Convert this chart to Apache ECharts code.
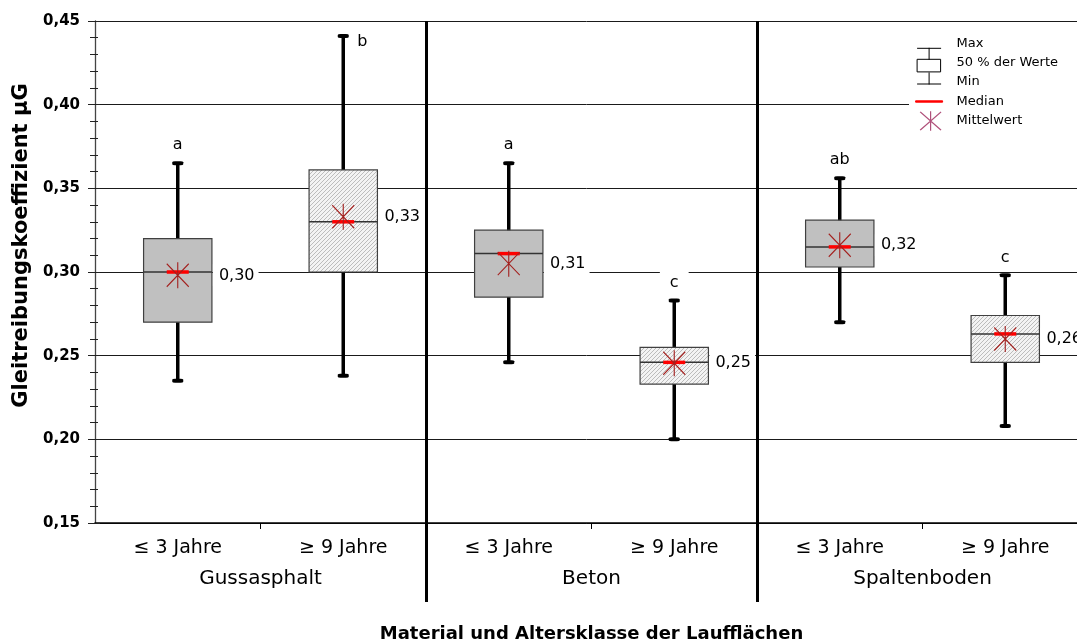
<!DOCTYPE html>
<html><head><meta charset="utf-8">
<script src="https://cdn.jsdelivr.net/npm/echarts@6/dist/echarts.min.js"></script>
<style>html,body{margin:0;padding:0;background:#fff}#c{width:1077px;height:644px}</style>
</head><body><div id="c"></div>
<script>
// ---------- data ----------
const categories = ['≤ 3 Jahre', '≥ 9 Jahre', '≤ 3 Jahre', '≥ 9 Jahre', '≤ 3 Jahre', '≥ 9 Jahre'];
const groups = ['Gussasphalt', 'Beton', 'Spaltenboden'];
const minVals    = [0.235, 0.238, 0.246, 0.200, 0.270, 0.208];
const q1Vals     = [0.270, 0.300, 0.285, 0.233, 0.303, 0.246];
const medianVals = [0.300, 0.330, 0.311, 0.246, 0.315, 0.263];
const q3Vals     = [0.320, 0.361, 0.325, 0.255, 0.331, 0.274];
const maxVals    = [0.365, 0.441, 0.365, 0.283, 0.356, 0.298];
const meanVals   = [0.298, 0.333, 0.305, 0.2455, 0.316, 0.260];
const letters    = ['a', 'b', 'a', 'c', 'ab', 'c'];
const yMin = 0.15, yMax = 0.45, yStep = 0.05;

const FONT = 'DejaVu Sans';
const fmt = v => (Math.round(v * 100 + 1e-6) / 100).toFixed(2).replace('.', ',');

// hatch pattern for the older class
const hc = document.createElement('canvas');
hc.width = 4; hc.height = 4;
const g = hc.getContext('2d');
g.fillStyle = '#f3f3f3'; g.fillRect(0, 0, 4, 4);
g.strokeStyle = '#bcbcbc'; g.lineWidth = 1;
g.beginPath();
g.moveTo(0, 4); g.lineTo(4, 0);
g.moveTo(-1, 1); g.lineTo(1, -1);
g.moveTo(3, 5); g.lineTo(5, 3);
g.stroke();
const hatch = { image: hc, repeat: 'repeat' };

const boxData = categories.map((c, i) => [i, minVals[i], q1Vals[i], medianVals[i], q3Vals[i], maxVals[i], meanVals[i]]);

function renderBox(params, api) {
  const i = api.value(0);
  const pMin = api.coord([i, api.value(1)]);
  const pQ1 = api.coord([i, api.value(2)]);
  const pMed = api.coord([i, api.value(3)]);
  const pQ3 = api.coord([i, api.value(4)]);
  const pMax = api.coord([i, api.value(5)]);
  const pMean = api.coord([i, api.value(6)]);
  const band = api.size([1, 0])[0];
  const bw = band * 0.413;
  const x = pMin[0];
  const cs = params.coordSys;
  const hatched = categories[i].charAt(0) === '≥';
  let lx = x, ly = pMax[1] - 18;
  if (ly - 10 < cs.y) { lx = x + 19; ly = pMax[1] + 6; }
  return {
    type: 'group',
    children: [
      { type: 'line', shape: { x1: x, y1: pMax[1], x2: x, y2: pMin[1] },
        style: { stroke: '#000', lineWidth: 3.5 } },
      { type: 'rect', shape: { x: x - bw / 2, y: pQ3[1], width: bw, height: pQ1[1] - pQ3[1] },
        style: { fill: hatched ? hatch : '#c0c0c0', stroke: '#404040', lineWidth: 1.2 } },
      { type: 'line', shape: { x1: x - bw / 2, y1: pMed[1], x2: x + bw / 2, y2: pMed[1] },
        style: { stroke: '#333', lineWidth: 1.5 } },
      { type: 'text', x: x + bw / 2 + 1, y: pMean[1],
        style: { text: fmt(api.value(6)), fill: '#000', font: '16px "' + FONT + '"',
          align: 'left', verticalAlign: 'middle', lineHeight: 18,
          backgroundColor: '#fff', padding: [2, 4, 2, 6] } },
      { type: 'text', x: lx, y: ly,
        style: { text: letters[i], fill: '#000', font: '16px "' + FONT + '"',
          align: 'center', verticalAlign: 'middle', lineHeight: 18,
          backgroundColor: '#fff', padding: [3, 10, 2, 10] } }
    ]
  };
}

const legendStroke = (c, w) => ({ color: 'rgba(0,0,0,0)', borderColor: c, borderWidth: w, borderCap: 'square' });

const option = {
  animation: false,
  backgroundColor: '#fff',
  textStyle: { fontFamily: FONT },
  grid: { left: 95, top: 21, width: 993, height: 502, containLabel: false, outerBoundsMode: 'none' },
  legend: {
    orient: 'vertical', left: 909, top: 27.6,
    itemWidth: 27, itemHeight: 18.4, itemGap: 0,
    padding: [6, 20, 6, 6], backgroundColor: '#fff',
    selectedMode: false,
    textStyle: { fontFamily: FONT, fontSize: 13, color: '#000', padding: [0, 0, 0, 9] },
    data: [
      { name: 'Max', icon: 'path://M0 0M27 18.4M2 14.2L25 14.2M13.5 14.2L13.5 18.4', itemStyle: legendStroke('#000', 1) },
      { name: '50 % der Werte', icon: 'path://M0 0M27 18.4M13.5 0L13.5 5.8M2 5.8L25 5.8L25 18.4L2 18.4Z', itemStyle: legendStroke('#000', 1) },
      { name: 'Min', icon: 'path://M0 0M27 18.4M13.5 0L13.5 11.1M2 11.1L25 11.1', itemStyle: legendStroke('#000', 1) },
      { name: 'Median', icon: 'path://M0 0M27 18.4M0 8.5L27 8.5L27 9.9L0 9.9Z', itemStyle: { color: '#ff0000', borderColor: '#ff0000', borderWidth: 1 } },
      { name: 'Mittelwert', icon: 'path://M0 0M27 18.4M5 0.5L25 17.9M25 0.5L5 17.9M15 0L15 18.4', itemStyle: legendStroke('#b0507a', 1.2) }
    ]
  },
  xAxis: [
    {
      type: 'category', data: categories, position: 'bottom',
      axisLine: { show: true, onZero: false, lineStyle: { color: '#000', width: 1.5 } },
      axisTick: { show: false },
      axisLabel: { interval: 0, margin: 16, fontFamily: FONT, fontSize: 19, color: '#000' },
      splitLine: { show: false },
      name: 'Material und Altersklasse der Laufflächen', nameLocation: 'middle', nameGap: 102,
      nameTextStyle: { fontFamily: FONT, fontSize: 18, fontWeight: 'bold', color: '#000' }
    },
    {
      type: 'category', data: groups, position: 'bottom',
      axisLine: { show: false, onZero: false },
      axisTick: { show: true, alignWithLabel: true, length: 6, lineStyle: { color: '#000', width: 1 } },
      axisLabel: { interval: 0, margin: 46, fontFamily: FONT, fontSize: 20, color: '#000' },
      splitLine: { show: false }
    },
    {
      type: 'category', data: groups, position: 'bottom', offset: 79, z: 5,
      axisLine: { show: false, onZero: false },
      axisTick: { show: true, inside: true, length: 581, interval: (idx) => idx > 0,
        lineStyle: { color: '#000', width: 3 } },
      axisLabel: { show: false },
      splitLine: { show: false }
    }
  ],
  yAxis: [
    {
      type: 'value', min: yMin, max: yMax, interval: yStep,
      name: 'Gleitreibungskoeffizient µG', nameLocation: 'middle', nameRotate: 90, nameGap: 60,
      nameTextStyle: { fontFamily: FONT, fontSize: 21, fontWeight: 'bold', color: '#000', padding: [0, 0, 0, 53] },
      axisLine: { show: true, lineStyle: { color: '#444', width: 1.3 } },
      axisTick: { show: true, length: 7, lineStyle: { color: '#222' } },
      minorTick: { show: true, splitNumber: 5, length: 5, lineStyle: { color: '#222' } },
      axisLabel: { formatter: fmt, margin: 15, fontFamily: FONT, fontSize: 15, fontWeight: 'bold', color: '#000' },
      splitLine: { show: true, lineStyle: { color: '#1a1a1a', width: 1 } }
    },
    {
      type: 'value', min: yMin, max: yMax, interval: yStep, position: 'left',
      axisLine: { show: false },
      axisTick: { show: true, inside: true, length: 5, lineStyle: { color: '#222' } },
      minorTick: { show: true, splitNumber: 5, length: 3, lineStyle: { color: '#222' } },
      axisLabel: { show: false },
      splitLine: { show: false }
    }
  ],
  series: [
    { name: '50 % der Werte', type: 'custom', renderItem: renderBox, data: boxData,
      encode: { x: 0, y: [1, 2, 3, 4, 5, 6] }, itemStyle: { color: '#c0c0c0' } },
    { name: 'Max', type: 'scatter', data: categories.map((c, i) => [i, maxVals[i]]),
      symbol: 'roundRect', symbolSize: [11, 4], itemStyle: { color: '#000', opacity: 1 } },
    { name: 'Min', type: 'scatter', data: categories.map((c, i) => [i, minVals[i]]),
      symbol: 'roundRect', symbolSize: [11, 4], itemStyle: { color: '#000', opacity: 1 } },
    { name: 'Median', type: 'scatter', data: categories.map((c, i) => [i, medianVals[i]]),
      symbol: 'rect', symbolSize: [22, 3.5], itemStyle: { color: '#ff0000', opacity: 1 } },
    { name: 'Mittelwert', type: 'scatter', data: categories.map((c, i) => [i, meanVals[i]]),
      symbol: 'path://M0 1.5L22 24.5M22 1.5L0 24.5M11 0L11 26', symbolSize: [22, 26],
      itemStyle: { color: 'rgba(0,0,0,0)', borderColor: '#a3201e', borderWidth: 1.2, opacity: 1 } }
  ]
};

const chart = echarts.init(document.getElementById('c'), null, { renderer: 'canvas' });
chart.setOption(option);
</script>
</body></html>
